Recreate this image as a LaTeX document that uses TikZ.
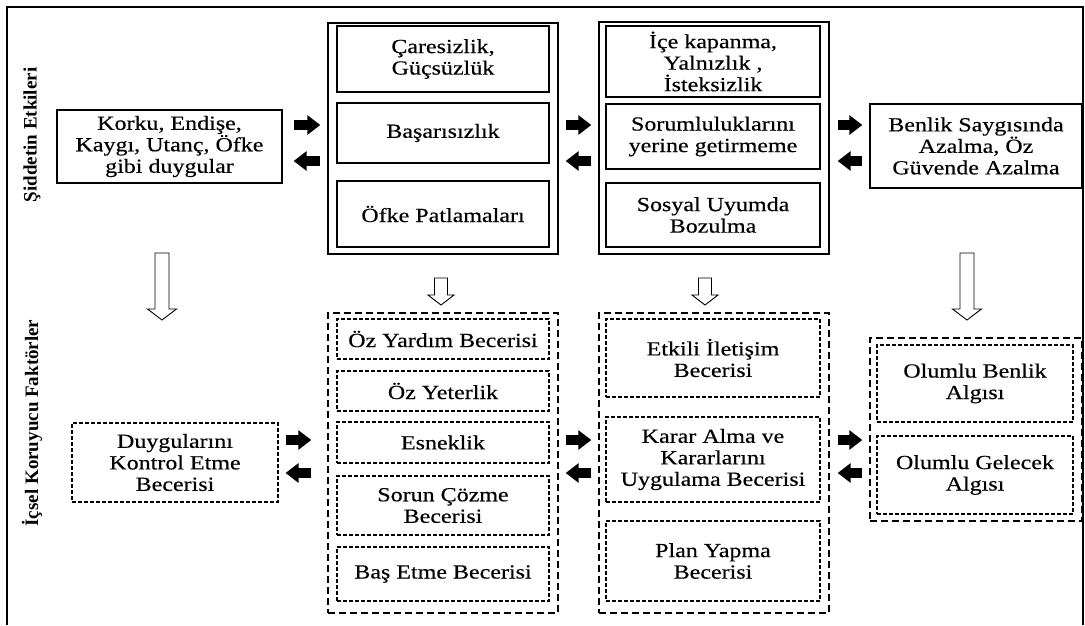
\documentclass[tikz,border=0pt]{standalone}
\usepackage{fontspec}
\setmainfont{Liberation Serif}
\newfontfamily\boxfont[FakeStretch=1.2,FakeBold=0.4]{Liberation Serif}
\usetikzlibrary{arrows.meta,positioning}

\begin{document}
\begin{tikzpicture}
    [
      x=1pt,y=-1pt,
      solidbox/.style={draw,line width=1.3pt,align=center,inner sep=0pt,
        font=\boxfont\fontsize{20}{21.5}\selectfont},
      dashbox/.style={solidbox,line width=1.1pt,dash pattern=on 4pt off 2pt},
      outersolid/.style={draw,line width=1.4pt,inner sep=0pt},
      outerdash/.style={draw,line width=1.4pt,inner sep=0pt,dash pattern=on 7pt off 4pt},
      sidelabel/.style={rotate=90,inner sep=0pt,font=\bfseries\fontsize{19}{19}\selectfont},
      fatarrow/.style={line width=10pt,-{Triangle[length=13pt,width=19pt]}},
      longdown/.pic={\draw[line width=0.9pt,fill=white]
        (-7,0) -- (-7,56) -- (-14.5,56) -- (0,67) -- (14.5,56) -- (7,56) -- (7,0) -- cycle;},
      shortdown/.pic={\draw[line width=0.9pt,fill=white]
        (-6.5,0) -- (-6.5,17) -- (-13,17) -- (0,27) -- (13,17) -- (6.5,17) -- (6.5,0) -- cycle;},
    ]

    \useasboundingbox (0,0) rectangle (1085,625);
    \draw [line width=2.5pt] (7,625) -- (7,7) -- (1083,7) -- (1083,625);

    \node (label-top) [sidelabel] at (32,135) {Şiddetin Etkileri};
    \node (label-bottom) [sidelabel] at (32,423) {İçsel Koruyucu Faktörler};

    % upper row
    \node (korku) [solidbox,minimum width=225,minimum height=73] at (169.5,146.5)
      {Korku, Endişe,\\Kaygı, Utanç, Öfke\\gibi duygular};

    \node (grp-b) [outersolid,minimum width=230,minimum height=231] at (443,138.5) {};
    \node (caresizlik) [solidbox,minimum width=212,minimum height=66] at (443,59)
      {Çaresizlik,\\Güçsüzlük};
    \node (basarisizlik) [solidbox,minimum width=212,minimum height=60] at (443,133)
      {Başarısızlık};
    \node (patlama) [solidbox,minimum width=212,minimum height=66] at (443,214)
      {Öfke Patlamaları};

    \node (grp-c) [outersolid,minimum width=230,minimum height=232] at (714,138) {};
    \node (kapanma) [solidbox,minimum width=214,minimum height=71] at (713,61.5)
      {İçe kapanma,\\Yalnızlık ,\\İsteksizlik};
    \node (sorumluluk) [solidbox,minimum width=214,minimum height=65] at (713,136.5)
      {Sorumluluklarını\\yerine getirmeme};
    \node (uyum) [solidbox,minimum width=214,minimum height=64] at (713,215)
      {Sosyal Uyumda\\Bozulma};

    \node (benlik) [solidbox,minimum width=212,minimum height=84] at (976,146)
      {Benlik Saygısında\\Azalma, Öz\\Güvende Azalma};

    % lower row
    \node (duygu) [dashbox,minimum width=206,minimum height=79] at (175,462.5)
      {Duygularını\\Kontrol Etme\\Becerisi};

    \node (grp-f) [outerdash,minimum width=230,minimum height=300] at (443,463) {};
    \node (yardim) [dashbox,minimum width=212,minimum height=40] at (443,339)
      {Öz Yardım Becerisi};
    \node (yeterlik) [dashbox,minimum width=212,minimum height=40] at (443,391)
      {Öz Yeterlik};
    \node (esneklik) [dashbox,minimum width=212,minimum height=41] at (443,442.5)
      {Esneklik};
    \node (sorun) [dashbox,minimum width=212,minimum height=59] at (443,505.5)
      {Sorun Çözme\\Becerisi};
    \node (basetme) [dashbox,minimum width=212,minimum height=54] at (443,574)
      {Baş Etme Becerisi};

    \node (grp-g) [outerdash,minimum width=230,minimum height=300] at (714,463) {};
    \node (iletisim) [dashbox,minimum width=214,minimum height=78] at (713,358)
      {Etkili İletişim\\Becerisi};
    \node (karar) [dashbox,minimum width=214,minimum height=85] at (713,459.5)
      {Karar Alma ve\\Kararlarını\\Uygulama Becerisi};
    \node (plan) [dashbox,minimum width=214,minimum height=80] at (713,561)
      {Plan Yapma\\Becerisi};

    \node (grp-h) [outerdash,minimum width=212,minimum height=183] at (976,429.5) {};
    \node (algi-benlik) [dashbox,minimum width=196,minimum height=77] at (975,383.5)
      {Olumlu Benlik\\Algısı};
    \node (algi-gelecek) [dashbox,minimum width=196,minimum height=78] at (975,475)
      {Olumlu Gelecek\\Algısı};

    % two-way arrows
    \coordinate (up-r) at (0,125);
    \coordinate (up-l) at (0,161);
    \coordinate (low-r) at (0,440);
    \coordinate (low-l) at (0,473);

    \path
    (korku.east |- up-r) edge [fatarrow,shorten <=11pt,shorten >=7pt] (grp-b.west |- up-r)
    (grp-b.west |- up-l) edge [fatarrow,shorten <=7pt,shorten >=11pt] (korku.east |- up-l)

    (grp-b.east |- up-r) edge [fatarrow,shorten <=7pt,shorten >=7pt] (grp-c.west |- up-r)
    (grp-c.west |- up-l) edge [fatarrow,shorten <=7pt,shorten >=7pt] (grp-b.east |- up-l)

    (grp-c.east |- up-r) edge [fatarrow,shorten <=8pt,shorten >=7pt] (benlik.west |- up-r)
    (benlik.west |- up-l) edge [fatarrow,shorten <=7pt,shorten >=8pt] (grp-c.east |- up-l)

    (duygu.east |- low-r) edge [fatarrow,shorten <=7pt,shorten >=16pt] (grp-f.west |- low-r)
    (grp-f.west |- low-l) edge [fatarrow,shorten <=16pt,shorten >=7pt] (duygu.east |- low-l)

    (grp-f.east |- low-r) edge [fatarrow,shorten <=7pt,shorten >=7pt] (grp-g.west |- low-r)
    (grp-g.west |- low-l) edge [fatarrow,shorten <=7pt,shorten >=7pt] (grp-f.east |- low-l)

    (grp-g.east |- low-r) edge [fatarrow,shorten <=8pt,shorten >=7pt] (grp-h.west |- low-r)
    (grp-h.west |- low-l) edge [fatarrow,shorten <=7pt,shorten >=8pt] (grp-g.east |- low-l)
    ;

    % hollow arrows down
    \pic (down-a) at (162,253) {longdown};
    \pic (down-b) at (441,278) {shortdown};
    \pic (down-c) at (705,278) {shortdown};
    \pic (down-d) at (967,253) {longdown};

\end{tikzpicture}
\end{document}
